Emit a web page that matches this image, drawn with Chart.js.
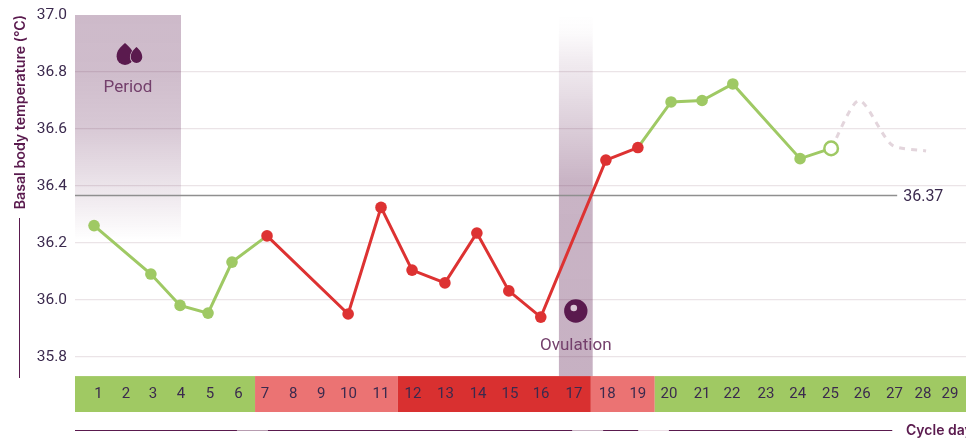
<!DOCTYPE html>
<html>
<head>
<meta charset="utf-8">
<style>html,body{margin:0;padding:0;background:#fff;overflow:hidden}canvas{display:block}</style>
<script src="https://cdn.jsdelivr.net/npm/chart.js@4"></script>
</head>
<body>
<canvas id="c" width="966" height="439"></canvas>
<script>
// x positions are in "strip units" (0..29), because the reference spaces days unevenly
const dayLabels = ['1','2','3','4','5','6','7','8','9','10','11','12','13','14','15','16','17','18','19','20','21','22','23','24','25','26','27','28','29'];
const dayLabelPos = [0.765,1.66,2.54,3.45,4.39,5.32,6.18,7.10,8.01,8.90,9.96,11.0,12.06,13.12,14.16,15.17,16.24,17.32,18.32,19.33,20.41,21.38,22.49,23.52,24.59,25.62,26.67,27.6,28.48];
const measuredDays = [1,3,4,5,6,7,10,11,12,13,14,15,16,18,19,20,21,22,24,25];
const measuredPos = [0.62,2.47,3.42,4.33,5.11,6.25,8.89,9.96,10.97,12.04,13.08,14.12,15.16,17.28,18.32,19.40,20.41,21.41,23.60,24.61];
const measuredTemps = [36.261,36.091,35.981,35.954,36.133,36.225,35.951,36.325,36.105,36.06,36.235,36.032,35.94,36.491,36.535,36.695,36.70,36.758,36.496,36.532];
const predictedPos = [24.61,25.52,26.59,27.70];
const predictedTemps = [36.532,36.70,36.544,36.523];
const coverline = 36.37;
const coverlineLinePos = [0,26.76];
const coverlineDrawTemp = 36.367;
const yTicks = [35.8,36.0,36.2,36.4,36.6,36.8,37.0];
const phaseEdges = [0,5.86,10.51,16.79,18.87,29];
const phaseColors = ['#a0c963','#eb7373','#d93030','#eb7373','#a0c963'];
const stripTemps = [35.733,35.607];
const periodBand = {from:0,to:3.45,top:37,bottom:36.21};
const ovulationBand = {from:15.75,to:16.85,top:37,bottom:35.733};
const axisBreaks = [[5.27,6.28,'#b79cb0'],[16.18,17.19,'#c9b4c4'],[18.33,19.33,'#ecdfe6']];
const axisLineExtent = [0,26.6];

const GREEN='#9fc964', RED='#dd3232', PLUM='#5a1a4e', INK='#3b2a4e', LABEL='#74406c';
const isRed = d => d>=7 && d<=19;
const segColor = ctx => (isRed(measuredDays[ctx.p0DataIndex]) && isRed(measuredDays[ctx.p1DataIndex])) ? RED : GREEN;

const drop=(g,cx,top,bottom,hw)=>{
  const h=bottom-top, cy=bottom-hw;
  g.beginPath();
  g.moveTo(cx,top);
  g.bezierCurveTo(cx+hw*0.55,top+h*0.18,cx+hw,cy-hw*0.75,cx+hw,cy);
  g.arc(cx,cy,hw,0,Math.PI);
  g.bezierCurveTo(cx-hw,cy-hw*0.75,cx-hw*0.55,top+h*0.18,cx,top);
  g.closePath();
};

const stripPlugin={id:'strip',beforeDraw(ch){
  const g=ch.ctx,x=ch.scales.x,y=ch.scales.y;
  const t=y.getPixelForValue(stripTemps[0]),b=y.getPixelForValue(stripTemps[1]);
  phaseColors.forEach((c,i)=>{
    g.fillStyle=c;
    const a=x.getPixelForValue(phaseEdges[i]),e=x.getPixelForValue(phaseEdges[i+1]);
    g.fillRect(a,t,e-a,b-t);
  });
  g.font='15px Roboto';g.fillStyle=INK;g.textAlign='center';g.textBaseline='middle';
  dayLabels.forEach((l,i)=>g.fillText(l,x.getPixelForValue(dayLabelPos[i]),(t+b)/2));
}};
const bandPlugin={id:'bands',beforeDatasetsDraw(ch){
  const g=ch.ctx,x=ch.scales.x,y=ch.scales.y;
  const rect=(bd,stops)=>{
    const a=x.getPixelForValue(bd.from),e=x.getPixelForValue(bd.to),t=y.getPixelForValue(bd.top),b=y.getPixelForValue(bd.bottom);
    const gr=g.createLinearGradient(0,t,0,b);
    stops.forEach(s=>gr.addColorStop(s[0],'rgba(90,26,78,'+s[1]+')'));
    g.fillStyle=gr; g.fillRect(a,t,e-a,b-t);
  };
  rect(periodBand,[[0,.3],[.25,.29],[.5,.24],[.75,.12],[1,0]]);
  rect(ovulationBand,[[0,0],[.05,.02],[.12,.08],[.21,.14],[.37,.26],[.46,.33],[1,.34]]);
  const px=x.getPixelForValue((periodBand.from+periodBand.to)/2);
  const ox=x.getPixelForValue((ovulationBand.from+ovulationBand.to)/2);
  g.fillStyle=PLUM;
  drop(g,px-3,43,65,8.4); g.fill();
  drop(g,px+8.5,47,63,5.8); g.strokeStyle='#d2c0ce'; g.lineWidth=1.6; g.stroke(); g.fill();
  g.textAlign='center';g.textBaseline='middle';g.font='17px Roboto';g.fillStyle=LABEL;
  g.fillText('Period',px,87.5);
  g.fillText('Ovulation',ox,345.5);
  g.fillStyle=PLUM;g.beginPath();g.arc(ox,311,11.7,0,Math.PI*2);g.fill();
  g.fillStyle='#d9c6d4';g.beginPath();g.arc(ox-2,308,3.3,0,Math.PI*2);g.fill();
},afterDraw(ch){
  const g=ch.ctx,x=ch.scales.x;
  g.font='16px Roboto';g.fillStyle=INK;g.textAlign='left';g.textBaseline='middle';
  g.fillText(coverline.toFixed(2),x.getPixelForValue(coverlineLinePos[1])+6,196.5);
  g.fillStyle=PLUM;g.fillRect(19,218,1,160);
  const ly=430;
  g.fillRect(x.getPixelForValue(axisLineExtent[0]),ly,x.getPixelForValue(axisLineExtent[1])-x.getPixelForValue(axisLineExtent[0]),1);
  axisBreaks.forEach(b=>{
    const a=x.getPixelForValue(b[0]),e=x.getPixelForValue(b[1]);
    g.fillStyle=b[2];g.fillRect(a,ly,e-a,1);
  });
  g.fillStyle=PLUM;g.font='600 14px Inter';g.textAlign='left';g.textBaseline='middle';
  g.fillText('Cycle day',906,431);
}};

new Chart(document.getElementById('c'),{
  type:'line',
  data:{datasets:[
    {label:'Coverline',data:coverlineLinePos.map(p=>({x:p,y:coverlineDrawTemp})),borderColor:'#8f8f8f',borderWidth:1.5,pointRadius:0,order:5},
    {label:'Predicted',data:predictedPos.map((p,i)=>({x:p,y:predictedTemps[i]})),borderColor:'#e3d5dc',borderWidth:3,borderDash:[6,6],tension:0.25,pointRadius:0,order:4},
    {label:'Basal body temperature',data:measuredPos.map((p,i)=>({x:p,y:measuredTemps[i]})),
      borderWidth:3,borderColor:GREEN,segment:{borderColor:segColor},tension:0,
      pointRadius:measuredDays.map((d,i)=>i===measuredDays.length-1?6.8:5.8),
      pointBorderWidth:measuredDays.map((d,i)=>i===measuredDays.length-1?2.5:0),
      pointBackgroundColor:measuredDays.map((d,i)=>i===measuredDays.length-1?'#fff':(isRed(d)?RED:GREEN)),
      pointBorderColor:measuredDays.map(d=>isRed(d)?RED:GREEN),order:1}
  ]},
  options:{
    responsive:false,animation:false,devicePixelRatio:1,
    layout:{autoPadding:false,padding:{top:15,left:0,right:0,bottom:0}},
    plugins:{legend:{display:false},tooltip:{enabled:false}},
    scales:{
      x:{type:'linear',min:0,max:29,position:'bottom',
        afterFit:s=>{s.height=25;s.paddingLeft=0;s.paddingRight=0;},
        grid:{display:false,drawTicks:false},border:{display:false},
        ticks:{display:false}},
      y:{type:'linear',min:35.6,max:37,position:'left',
        afterBuildTicks:s=>{s.ticks=yTicks.map(v=>({value:v}));},
        afterFit:s=>{s.width=75;s.paddingTop=0;s.paddingBottom=0;},
        grid:{drawTicks:false,color:c=>c.tick&&c.tick.value===37?'rgba(0,0,0,0)':'#ebe4e7',lineWidth:1.2},border:{display:false},
        title:{display:true,text:'Basal body temperature (°C)',align:'end',color:PLUM,font:{family:'Inter',size:14.2,weight:'600'},padding:{top:12,bottom:0}},
        ticks:{padding:8,autoSkip:false,color:INK,font:{family:'Roboto',size:15.5},callback:v=>Number(v).toFixed(1)}}
    }
  },
  plugins:[stripPlugin,bandPlugin]
});
</script>
</body>
</html>
